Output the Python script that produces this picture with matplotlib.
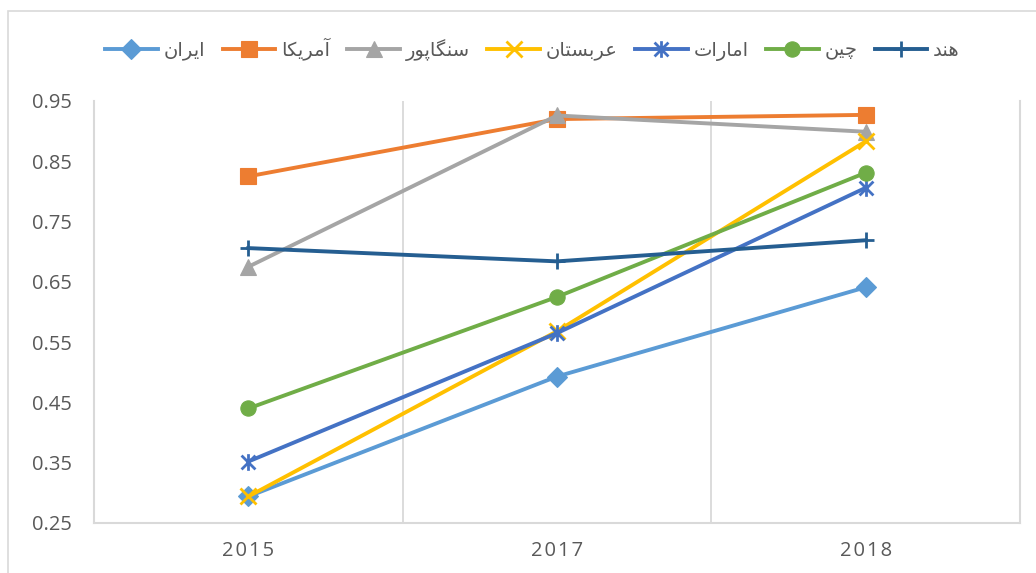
import numpy as np
import matplotlib
matplotlib.use("Agg")
import matplotlib.pyplot as plt
from matplotlib.path import Path
from matplotlib.patches import Rectangle

years = ["2015", "2017", "2018"]
countries = ["ایران", "آمریکا", "سنگاپور", "عربستان", "امارات", "چین", "هند"]
iran = [0.294, 0.493, 0.641]
usa = [0.825, 0.920, 0.927]
singapore = [0.675, 0.926, 0.899]
saudi = [0.294, 0.568, 0.883]
uae = [0.352, 0.565, 0.806]
china = [0.440, 0.625, 0.831]
india = [0.706, 0.684, 0.719]
series = [iran, usa, singapore, saudi, uae, china, india]

colors = ["#5B9BD5", "#ED7D31", "#A5A5A5", "#FFC000", "#4472C4", "#70AD47", "#255E91"]

# Excel-style "star": an x with a vertical bar through it
star = Path([(-1, -1), (1, 1), (-1, 1), (1, -1), (0, -1.2), (0, 1.2)],
            [Path.MOVETO, Path.LINETO] * 3)
markers = ["D", "s", "^", "x", star, "o", "+"]
msizes = [10, 11, 12, 11, 12, 11, 12]

# presentation forms: isolated, final, initial, medial
FORMS = {
    "ا": ("\uFE8D", "\uFE8E", None, None),
    "آ": ("\uFE81", "\uFE82", None, None),
    "د": ("\uFEA9", "\uFEAA", None, None),
    "ر": ("\uFEAD", "\uFEAE", None, None),
    "و": ("\uFEED", "\uFEEE", None, None),
    "ب": ("\uFE8F", "\uFE90", "\uFE91", "\uFE92"),
    "ت": ("\uFE95", "\uFE96", "\uFE97", "\uFE98"),
    "س": ("\uFEB1", "\uFEB2", "\uFEB3", "\uFEB4"),
    "ع": ("\uFEC9", "\uFECA", "\uFECB", "\uFECC"),
    "م": ("\uFEE1", "\uFEE2", "\uFEE3", "\uFEE4"),
    "ن": ("\uFEE5", "\uFEE6", "\uFEE7", "\uFEE8"),
    "ه": ("\uFEE9", "\uFEEA", "\uFEEB", "\uFEEC"),
    "پ": ("\uFB56", "\uFB57", "\uFB58", "\uFB59"),
    "چ": ("\uFB7A", "\uFB7B", "\uFB7C", "\uFB7D"),
    "ک": ("\uFB8E", "\uFB8F", "\uFB90", "\uFB91"),
    "گ": ("\uFB92", "\uFB93", "\uFB94", "\uFB95"),
    "ی": ("\uFBFC", "\uFBFD", "\uFBFE", "\uFBFF"),
}


def shape(word):
    out = []
    for i, ch in enumerate(word):
        f = FORMS[ch]
        prev_joins = i > 0 and FORMS[word[i - 1]][2] is not None
        next_joins = i < len(word) - 1 and f[2] is not None
        if prev_joins and next_joins:
            out.append(f[3])
        elif prev_joins:
            out.append(f[1])
        elif next_joins:
            out.append(f[2])
        else:
            out.append(f[0])
    return "".join(reversed(out))


fig = plt.figure(figsize=(10.36, 5.73), dpi=100)
ax = fig.add_axes([94 / 1036, 1 - 523 / 573, (1020 - 94) / 1036, (523 - 101) / 573])

x = np.arange(len(years))
for vals, name, c, m, ms in zip(series, countries, colors, markers, msizes):
    ax.plot(x, vals, color=c, lw=2.8, marker=m, markersize=ms,
            markeredgewidth=2 if m in ("x", "+") or m is star else 0.8,
            markeredgecolor=c, label=shape(name))

ax.set_xlim(-0.5, 2.5)
ax.set_ylim(0.25, 0.95)
ax.set_yticks(np.arange(0.25, 0.96, 0.1))
ax.set_yticklabels(["%.2f" % v for v in np.arange(0.25, 0.96, 0.1)])
ax.set_xticks(x)
ax.set_xticklabels(["\u200a".join(y) for y in years])
for xv in [0.5, 1.5]:
    ax.axvline(xv, color="#D9D9D9", lw=1.3, zorder=0)

for s in ["left", "bottom", "right"]:
    ax.spines[s].set_color("#D9D9D9")
    ax.spines[s].set_linewidth(1.5)
ax.spines["top"].set_visible(False)
ax.tick_params(axis="both", length=0, colors="#595959", labelsize=14.5)
ax.tick_params(axis="y", pad=16)
ax.tick_params(axis="x", pad=13)
for lab in ax.get_xticklabels() + ax.get_yticklabels():
    lab.set_family("Open Sans")

fig.legend(loc="center", bbox_to_anchor=(0.514, 0.9145), ncol=7, frameon=False,
           prop={"family": "DejaVu Sans", "size": 14}, labelcolor="#595959",
           handlelength=2.7, handletextpad=0.3, columnspacing=0.9)

# chart area border
fig.patches.append(Rectangle((8 / 1036, -0.05), 1.1, 1 - 11 / 573 + 0.05,
                             transform=fig.transFigure, fill=False,
                             edgecolor="#D9D9D9", lw=1.2))

fig.savefig("out.png", dpi=100)
